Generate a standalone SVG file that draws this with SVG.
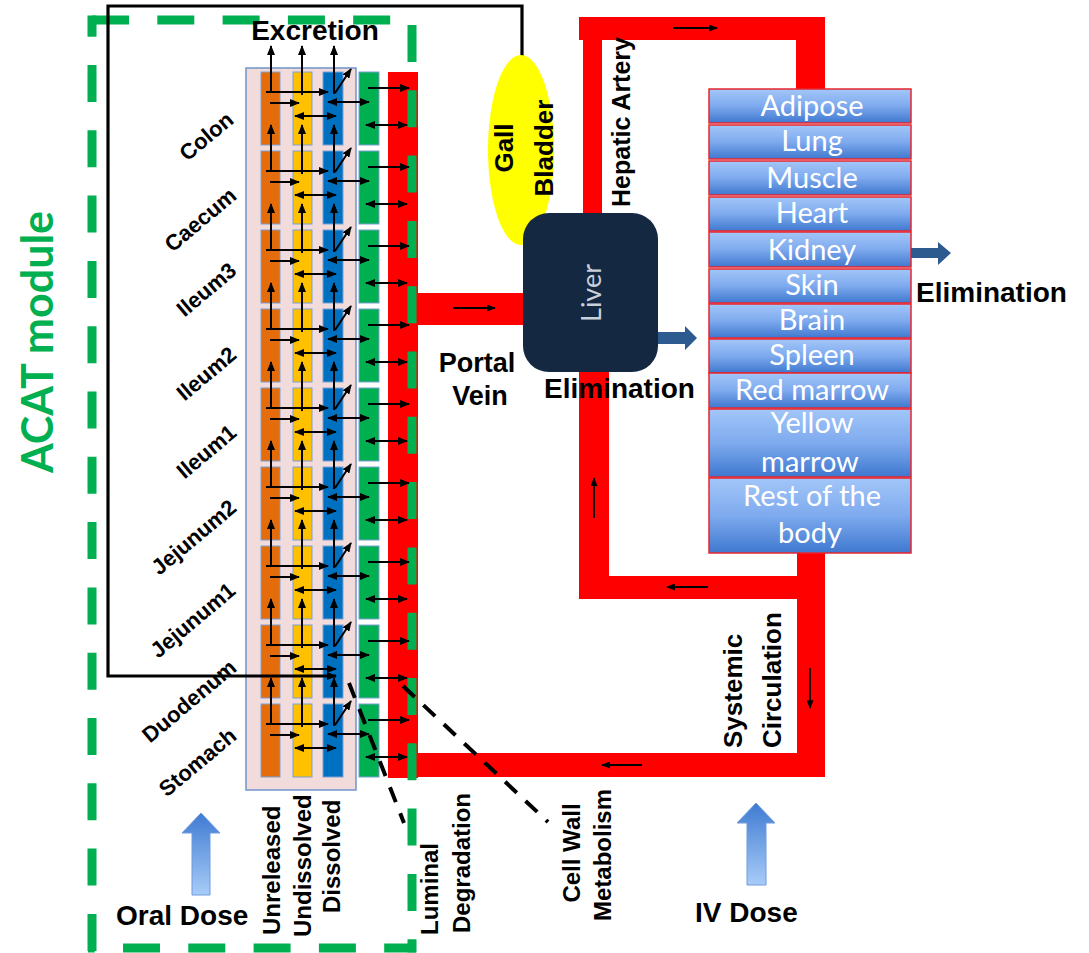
<svg xmlns="http://www.w3.org/2000/svg" width="1089" height="953" viewBox="0 0 1089 953">
<defs>
<style>
.lbl{font-family:"Liberation Sans",Arial,sans-serif;font-weight:bold;fill:#000}
.org{font-family:Lato,"Open Sans",sans-serif;font-size:29px;fill:#fff;text-anchor:middle}
.red{fill:#ff0000}
.ar{stroke:#000;stroke-width:2;fill:none;marker-end:url(#ah)}
.da{stroke:#000;stroke-width:2;fill:none;marker-end:url(#ah);marker-start:url(#ah)}
.fl{stroke:#000;stroke-width:1.8;fill:none;marker-end:url(#fh)}
.col{stroke:#7b9fd4;stroke-width:1}
.orgbox{fill:url(#og);stroke:#e8262e;stroke-width:1.5}
.gd{fill:none;stroke:#00b050;stroke-width:9;stroke-dasharray:37 28.3}
.dash{fill:none;stroke:#000;stroke-width:4;stroke-dasharray:16 12}
.elim{fill:#2d5b8f}
.dose{fill:url(#dg);stroke:#6f9be0;stroke-width:1}
</style>
<marker id="ah" viewBox="0 0 10 8" refX="9" refY="4" markerWidth="10" markerHeight="8" markerUnits="userSpaceOnUse" orient="auto-start-reverse"><path d="M0,0L10,4L0,8z" fill="#000"/></marker>
<marker id="fh" viewBox="0 0 10 8" refX="9" refY="4" markerWidth="9" markerHeight="7" markerUnits="userSpaceOnUse" orient="auto"><path d="M0,0L10,4L0,8z" fill="#000"/></marker>
<linearGradient id="og" x1="0" y1="0" x2="0" y2="1"><stop offset="0" stop-color="#a2c6f8"/><stop offset="0.5" stop-color="#7eaaee"/><stop offset="1" stop-color="#3f78cf"/></linearGradient>
<linearGradient id="dg" x1="0" y1="0" x2="0" y2="1"><stop offset="0" stop-color="#3f7bd2"/><stop offset="1" stop-color="#a8ccf8"/></linearGradient>
<g id="segArrows">
<line class="ar" x1="271" y1="21" x2="271" y2="-26"/>
<line class="ar" x1="302" y1="23" x2="302" y2="-26"/>
<line class="ar" x1="334" y1="22" x2="334" y2="-26"/>
<line class="ar" x1="266" y1="20" x2="328" y2="20"/>
<line class="ar" x1="270" y1="31" x2="299" y2="31"/>
<line class="da" x1="295" y1="44" x2="336" y2="44"/>
<line class="da" x1="328" y1="30" x2="369" y2="30"/>
<line class="ar" x1="335" y1="21" x2="351" y2="-3"/>
<line class="ar" x1="368" y1="16" x2="409" y2="16"/>
<line class="da" x1="366" y1="53" x2="407" y2="53"/>
</g>
<g id="segCols">
<rect class="col" x="261" y="0" width="19" height="73" fill="#e46c0a"/>
<rect class="col" x="293" y="0" width="19" height="73" fill="#ffc000"/>
<rect class="col" x="323" y="0" width="20" height="73" fill="#0070c0"/>
<rect class="col" x="359" y="0" width="20" height="73" fill="#00b050"/>
</g>
</defs>
<rect width="1089" height="953" fill="#fff"/>

<g id="circulation">
<rect class="red" x="579" y="17" width="246" height="23"/>
<rect class="red" x="796" y="17" width="29" height="72"/>
<rect class="red" x="583" y="17" width="19" height="200"/>
<rect class="red" x="579" y="365" width="30" height="234"/>
<rect class="red" x="579" y="576" width="246" height="23"/>
<rect class="red" x="797" y="552" width="28" height="225"/>
<rect class="red" x="405" y="753" width="420" height="24"/>
<rect class="red" x="405" y="293" width="125" height="32"/>
<line class="fl" x1="453" y1="308" x2="495" y2="308"/>
<line class="fl" x1="673" y1="28" x2="717" y2="28"/>
<line class="fl" x1="594" y1="518" x2="594" y2="478"/>
<line class="fl" x1="708" y1="587" x2="667" y2="587"/>
<line class="fl" x1="810" y1="668" x2="810" y2="708"/>
<line class="fl" x1="642" y1="765" x2="602" y2="765"/>
</g>

<g id="acat">
<rect x="246" y="68" width="110" height="722" fill="#f2dcdb" stroke="#6f94cc" stroke-width="1.5"/>
<rect class="red" x="388" y="72" width="30" height="706"/>
<use href="#segCols" transform="translate(0,72)"/>
<use href="#segCols" transform="translate(0,151)"/>
<use href="#segCols" transform="translate(0,230)"/>
<use href="#segCols" transform="translate(0,309)"/>
<use href="#segCols" transform="translate(0,388)"/>
<use href="#segCols" transform="translate(0,467)"/>
<use href="#segCols" transform="translate(0,546)"/>
<use href="#segCols" transform="translate(0,625)"/>
<use href="#segCols" transform="translate(0,704)"/>
</g>

<g id="acat-box">
<path class="gd" d="M92,20H412"/>
<path class="gd" d="M92,15.5V952.5" style="stroke-dashoffset:15.8"/>
<path class="gd" d="M412,25V952.5"/>
<path class="gd" d="M88,948H416" style="stroke-dashoffset:30.3"/>
</g>

<g id="connectors">
<use href="#segArrows" transform="translate(0,72)"/>
<use href="#segArrows" transform="translate(0,151)"/>
<use href="#segArrows" transform="translate(0,230)"/>
<use href="#segArrows" transform="translate(0,309)"/>
<use href="#segArrows" transform="translate(0,388)"/>
<use href="#segArrows" transform="translate(0,467)"/>
<use href="#segArrows" transform="translate(0,546)"/>
<use href="#segArrows" transform="translate(0,625)"/>
<use href="#segArrows" transform="translate(0,704)"/>
<path d="M522,58V6H108V676H336" fill="none" stroke="#000" stroke-width="3.2" marker-end="url(#ah)"/>
<line class="dash" x1="349" y1="683" x2="404" y2="823"/>
<line class="dash" x1="403" y1="686" x2="548" y2="822"/>
</g>

<g id="gall-bladder">
<ellipse cx="521" cy="150" rx="33" ry="95" fill="#ffff00"/>
<text class="lbl" font-size="26" text-anchor="middle" transform="translate(513,148) rotate(-90)">Gall</text>
<text class="lbl" font-size="26" text-anchor="middle" transform="translate(553,148) rotate(-90)">Bladder</text>
</g>

<g id="liver">
<rect x="523" y="213" width="135" height="159" rx="26" fill="#142841"/>
<text font-family="Lato,'Open Sans',sans-serif" font-size="27" fill="#c9cfdb" text-anchor="middle" transform="translate(601,293) rotate(-90)">Liver</text>
<polygon class="elim" points="658,332 685,332 685,326 697,338 685,350 685,344 658,344"/>
<text class="lbl" font-size="28" x="544" y="398">Elimination</text>
</g>

<g id="organs">
<rect class="orgbox" x="709" y="89" width="202" height="34"/>
<rect class="orgbox" x="709" y="125" width="202" height="34"/>
<rect class="orgbox" x="709" y="161" width="202" height="34"/>
<rect class="orgbox" x="709" y="197" width="202" height="34"/>
<rect class="orgbox" x="709" y="232" width="202" height="35"/>
<rect class="orgbox" x="709" y="269" width="202" height="34"/>
<rect class="orgbox" x="709" y="304" width="202" height="34"/>
<rect class="orgbox" x="709" y="339" width="202" height="34"/>
<rect class="orgbox" x="709" y="373" width="202" height="35"/>
<rect class="orgbox" x="709" y="409" width="202" height="68"/>
<rect class="orgbox" x="709" y="478" width="202" height="75"/>
<text class="org" x="812" y="116">Adipose</text>
<text class="org" x="812" y="151">Lung</text>
<text class="org" x="812" y="188">Muscle</text>
<text class="org" x="812" y="223">Heart</text>
<text class="org" x="812" y="260">Kidney</text>
<text class="org" x="812" y="295">Skin</text>
<text class="org" x="812" y="330">Brain</text>
<text class="org" x="812" y="365">Spleen</text>
<text class="org" x="812" y="400">Red marrow</text>
<text class="org" x="812" y="433">Yellow</text>
<text class="org" x="810" y="472">marrow</text>
<text class="org" x="812" y="506">Rest of the</text>
<text class="org" x="810" y="543">body</text>
<polygon class="elim" points="911,248 938,248 938,242 951,253 938,265 938,258 911,258"/>
<text class="lbl" font-size="28" x="916" y="302">Elimination</text>
</g>

<g id="labels">
<text x="53" y="342" font-family="Lato,'Open Sans',sans-serif" font-weight="bold" font-size="43" fill="#00b050" text-anchor="middle" transform="rotate(-90 53 342)">ACAT module</text>
<text class="lbl" font-size="28" x="315" y="40" text-anchor="middle">Excretion</text>
<g class="lbl" font-size="22" text-anchor="end">
<text transform="translate(235,122) rotate(-40)">Colon</text>
<text transform="translate(238,198) rotate(-40)">Caecum</text>
<text transform="translate(238,273) rotate(-40)">Ileum3</text>
<text transform="translate(238,357) rotate(-40)">Ileum2</text>
<text transform="translate(238,435) rotate(-40)">Ileum1</text>
<text transform="translate(238,510) rotate(-40)">Jejunum2</text>
<text transform="translate(237,593) rotate(-40)">Jejunum1</text>
<text transform="translate(238,670) rotate(-40)">Duodenum</text>
<text transform="translate(238,738) rotate(-40)">Stomach</text>
</g>
<g class="lbl" font-size="24">
<text transform="translate(280,935) rotate(-90)">Unreleased</text>
<text transform="translate(311,937) rotate(-90)">Undissolved</text>
<text transform="translate(340,913) rotate(-90)">Dissolved</text>
<text transform="translate(438,935) rotate(-90)">Luminal</text>
<text transform="translate(470,933) rotate(-90)">Degradation</text>
<text text-anchor="middle" transform="translate(580,853) rotate(-90)">Cell Wall</text>
<text text-anchor="middle" transform="translate(611,855) rotate(-90)">Metabolism</text>
</g>
<text class="lbl" font-size="25" text-anchor="middle" transform="translate(630,122) rotate(-90)">Hepatic Artery</text>
<text class="lbl" font-size="26" transform="translate(742,748) rotate(-90)">Systemic</text>
<text class="lbl" font-size="26" transform="translate(781,748) rotate(-90)">Circulation</text>
<text class="lbl" font-size="27" x="477" y="372" text-anchor="middle">Portal</text>
<text class="lbl" font-size="27" x="480" y="405" text-anchor="middle">Vein</text>
</g>

<g id="oral-dose">
<polygon class="dose" points="201,813 220,833 210,833 210,895 192,895 192,833 182,833"/>
<text class="lbl" font-size="28" x="116" y="925">Oral Dose</text>
</g>
<g id="iv-dose">
<polygon class="dose" points="756,803 775,823 766,823 766,885 747,885 747,823 737,823"/>
<text class="lbl" font-size="28" x="695" y="922">IV Dose</text>
</g>
</svg>
